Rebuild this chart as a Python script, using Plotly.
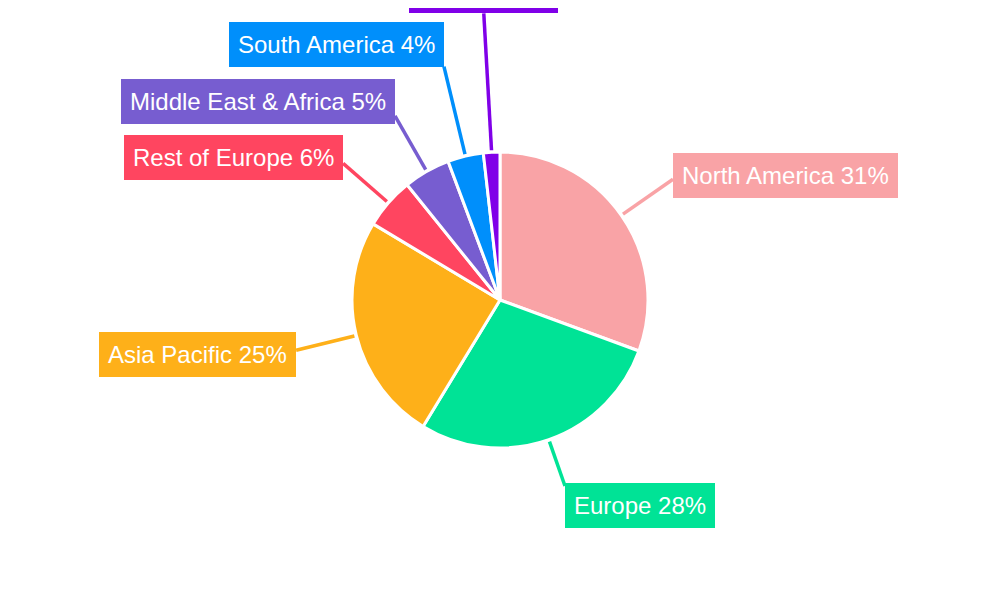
import math
import plotly.graph_objects as go

# ---- data ----
regions = ["North America", "Europe", "Asia Pacific", "Rest of Europe",
           "Middle East & Africa", "South America", "Oceania"]
shares = [30.6, 28.1, 24.9, 5.6, 5.1, 3.9, 1.8]
colors = ["#F9A3A6", "#00E396", "#FEB019", "#FF4560", "#775DD0", "#008FFB", "#8000E8"]

# ---- layout settings (not data) ----
W, H = 1000, 600
cx, cy, R = 492, 292, 148   # page body adds an 8px offset
lead_start = 150
label_r = [211, 197, 210, 208, 212, 240, 287]
xanch = ["left", "left", "right", "right", "right", "right", "center"]
yanch = ["middle", "top", "middle", "middle", "middle", "bottom", "bottom"]
yshift = [4, 3, -4, 6, 14, 0, 0]
FONT = "Liberation Sans, Arial, sans-serif"

total = sum(shares)
pct = [round(v / total * 100) for v in shares]

fig = go.Figure(go.Pie(
    labels=regions, values=shares, sort=False, direction="clockwise", rotation=0,
    marker=dict(colors=colors, line=dict(color="white", width=3)),
    textinfo="none", showlegend=False,
    domain=dict(x=[(cx - R) / W, (cx + R) / W], y=[(H - cy - R) / H, (H - cy + R) / H]),
))

def to_paper(px, py):
    return px / W, 1 - py / H

shapes, annotations = [], []
cum = 0.0
for i, v in enumerate(shares):
    mid = (cum + v / 2) / total * 2 * math.pi
    cum += v
    dx, dy = math.sin(mid), -math.cos(mid)
    x0, y0 = to_paper(cx + lead_start * dx, cy + lead_start * dy)
    x1, y1 = to_paper(cx + label_r[i] * dx, cy + label_r[i] * dy)
    shapes.append(dict(type="line", xref="paper", yref="paper", x0=x0, y0=y0, x1=x1, y1=y1,
                       line=dict(color=colors[i], width=3.5)))
    annotations.append(dict(
        xref="paper", yref="paper", x=x1, y=y1, xanchor=xanch[i], yanchor=yanch[i],
        yshift=yshift[i], showarrow=False,
        text=f"{regions[i]} {pct[i]}%", font=dict(family=FONT, size=24, color="white"),
        bgcolor=colors[i], borderpad=9, borderwidth=0,
    ))

fig.update_layout(
    width=W, height=H, margin=dict(l=0, r=0, t=0, b=0),
    paper_bgcolor="white", plot_bgcolor="white",
    shapes=shapes, annotations=annotations,
    font=dict(family=FONT),
)

fig.write_html("out.html")
